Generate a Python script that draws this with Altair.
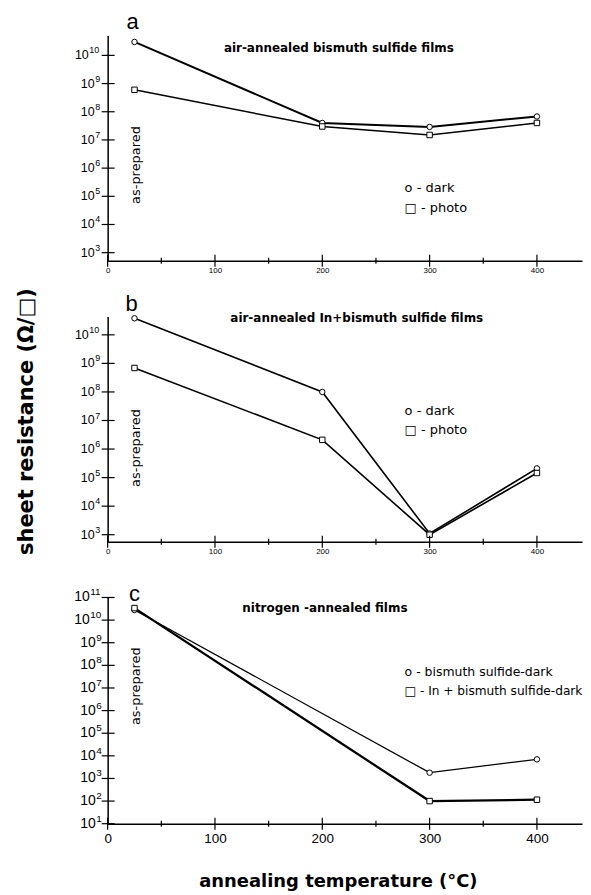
import altair as alt
import pandas as pd

# ---- data ----
temps = [25, 200, 300, 400]
a_dark = [3.0e10, 4.0e7, 2.9e7, 6.8e7]
a_photo = [6.0e8, 3.0e7, 1.5e7, 4.0e7]
b_dark = [3.8e10, 1.0e8, 1.1e3, 2.1e5]
b_photo = [6.9e8, 2.1e6, 1.0e3, 1.45e5]
c_temps = [25, 300, 400]
c_bs_dark = [2.8e10, 1.8e3, 7.0e3]
c_in_dark = [3.4e10, 1.0e2, 1.15e2]

major_ticks = [0, 100, 200, 300, 400]
minor_ticks = [50, 150, 250, 350]
decades_ab = [1e3, 1e4, 1e5, 1e6, 1e7, 1e8, 1e9, 1e10]
decades_c = [1e1, 1e2, 1e3, 1e4, 1e5, 1e6, 1e7, 1e8, 1e9, 1e10, 1e11]

FONT = "Liberation Sans"
TFONT = "DejaVu Sans"
W = 476
XDOM = [0, 442]


def txt(s, x, y, size, weight="normal", angle=0, align="left", baseline="middle", font=TFONT):
    return alt.Chart(pd.DataFrame({"t": [s]})).mark_text(
        text=s, font=font, fontSize=size, fontWeight=weight, angle=angle,
        align=align, baseline=baseline, color="black"
    ).encode(x=alt.value(x), y=alt.value(y))


def ylabels(decades, Y, big):
    base = 14 if big else 12.5
    ex = 10 if big else 9
    splits = [-12, -18] if big else [-13, -19]
    d = pd.DataFrame({"R": decades})
    layers = []
    for cond, split in [("datum.e < 10", splits[0]), ("datum.e >= 10", splits[1])]:
        src = alt.Chart(d).transform_calculate(e="round(log(datum.R)/LN10)").transform_filter(cond)
        layers.append(src.mark_text(text="10", align="right", baseline="middle", fontSize=base,
                                    font=FONT, color="black").encode(y=Y, x=alt.value(split)))
        layers.append(src.mark_text(align="left", baseline="middle", fontSize=ex, font=FONT,
                                    color="black", dy=-5).encode(y=Y, x=alt.value(split + 0.5),
                                                                 text=alt.Text("e:Q")))
    return layers


def panel(series, ydom, height, decades, big, sw, texts, ytitle=None, xtitle=None):
    rows = []
    for name, xs, ys in series:
        for x, y in zip(xs, ys):
            rows.append({"series": name, "temp": x, "R": y})
    df = pd.DataFrame(rows)
    names = [s[0] for s in series]

    xa = dict(values=major_ticks, ticks=False, tickSize=0, domainColor="black",
              domainWidth=1.5, labelFont=FONT, labelFontSize=13.5 if big else 8,
              labelColor="black", labelPadding=8 if big else 6, labelFlush=False,
              labelOverlap=False, grid=False, title=None)
    if xtitle:
        xa.update(title=xtitle, titleFont=TFONT, titleFontSize=18, titleFontWeight="bold",
                  titleColor="black", titleX=231, titleY=58, titleAlign="center",
                  titleBaseline="middle")
    ya = dict(values=decades, labels=False, ticks=False, tickSize=0,
              domainColor="black", domainWidth=1.5, grid=False, title=None)
    if ytitle:
        ya.update(title=ytitle, titleFont=TFONT, titleFontSize=21, titleFontWeight="bold",
                  titleColor="black", titleX=-81, titleY=105, titleAngle=270,
                  titleAlign="center", titleBaseline="middle")

    X = alt.X("temp:Q", scale=alt.Scale(domain=XDOM, nice=False, zero=False), axis=alt.Axis(**xa))
    Y = alt.Y("R:Q", scale=alt.Scale(type="log", domain=ydom, nice=False), axis=alt.Axis(**ya))

    lines = alt.Chart(df).mark_line(color="black").encode(
        x=X, y=Y, detail="series:N",
        strokeWidth=alt.StrokeWidth("series:N", scale=alt.Scale(domain=names, range=sw), legend=None),
    )
    points = alt.Chart(df).mark_point(filled=True, fill="white", stroke="black",
                                      strokeWidth=1, opacity=1, size=30).encode(
        x=X, y=Y,
        shape=alt.Shape("series:N", scale=alt.Scale(domain=names, range=["circle", "square"]), legend=None),
    )
    xt = alt.Chart(pd.DataFrame({"temp": major_ticks})).mark_rule(color="black", strokeWidth=1.2).encode(
        x=X, y=alt.value(height - 6), y2=alt.value(height + 6))
    xm = alt.Chart(pd.DataFrame({"temp": minor_ticks})).mark_rule(color="black", strokeWidth=1.2).encode(
        x=X, y=alt.value(height - 3), y2=alt.value(height + 3))
    yt = alt.Chart(pd.DataFrame({"R": decades})).mark_rule(color="black", strokeWidth=1.2).encode(
        y=Y, x=alt.value(-6), x2=alt.value(7))

    return alt.layer(lines, points, xt, xm, yt, *ylabels(decades, Y, big), *texts).properties(
        width=W, height=height)


pa = panel(
    [("dark", temps, a_dark), ("photo", temps, a_photo)],
    [521, 5.1e10], 226, decades_ab, False, [2.0, 1.5],
    [
        txt("a", 25, -6, 22, align="center", baseline="alphabetic", font=FONT),
        txt("air-annealed bismuth sulfide films", 232, 13, 12, weight="bold", align="center"),
        txt("as-prepared", 28, 130, 13, angle=270, align="center"),
        txt("o - dark", 298, 153, 13),
        txt("□ - photo", 298, 173, 13),
    ],
)

pb = panel(
    [("dark", temps, b_dark), ("photo", temps, b_photo)],
    [570, 4.4e10], 226, decades_ab, False, [1.6, 1.6],
    [
        txt("b", 24, -5, 22, align="center", baseline="alphabetic", font=FONT),
        txt("air-annealed In+bismuth sulfide films", 250, 2, 12, weight="bold", align="center"),
        txt("as-prepared", 28, 132, 13, angle=270, align="center"),
        txt("o - dark", 298, 95, 13),
        txt("□ - photo", 298, 114, 13),
    ],
    ytitle="sheet resistance (Ω/□)",
)

pc = panel(
    [("bismuth sulfide-dark", c_temps, c_bs_dark), ("In + bismuth sulfide-dark", c_temps, c_in_dark)],
    [10, 1e11], 227, decades_c, True, [1.3, 2.3],
    [
        txt("c", 27, 4, 22, align="center", baseline="alphabetic", font=FONT),
        txt("nitrogen -annealed films", 218, 11, 12, weight="bold", align="center"),
        txt("as-prepared", 28, 89, 13, angle=270, align="center"),
        txt("o - bismuth sulfide-dark", 298, 75, 12.5),
        txt("□ - In + bismuth sulfide-dark", 298, 94, 12.2),
    ],
    xtitle="annealing temperature (°C)",
)

chart = alt.vconcat(pa, pb, pc, spacing=56, bounds="flush").resolve_scale(
    x="independent", y="independent", strokeWidth="independent", shape="independent"
).configure(
    font=FONT, padding={"left": 7, "top": 2, "right": 0, "bottom": 0}, background="white"
).configure_view(stroke=None)

chart.save("out.html", embed_options={"renderer": "svg", "actions": False})
